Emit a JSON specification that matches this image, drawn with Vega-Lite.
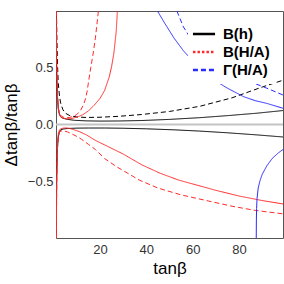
{
  "$schema": "https://vega.github.io/schema/vega-lite/v6.json",
  "width": 227,
  "height": 227,
  "autosize": "none",
  "padding": {"left": 56, "top": 11, "right": 1, "bottom": 46},
  "config": {
    "view": {"stroke": "#555555", "strokeWidth": 1},
    "font": "Liberation Sans",
    "axis": {
      "domain": false,
      "grid": false,
      "tickSize": 0,
      "tickColor": "#555555",
      "tickWidth": 1,
      "labelFont": "Liberation Sans",
      "labelFontSize": 13,
      "labelColor": "#333333",
      "titleFont": "Liberation Sans",
      "titleFontSize": 17,
      "titleFontWeight": "normal",
      "titleColor": "black"
    }
  },
  "resolve": {"axis": {"x": "independent", "y": "independent"}},
  "layer": [
    {
      "data": {"values": [{"a": 1, "b": 99, "z": 0}]},
      "mark": {"type": "rule", "color": "#c4c4c4", "strokeWidth": 2},
      "encoding": {
        "x": {
          "field": "a", "type": "quantitative",
          "scale": {"domain": [1, 99], "nice": false, "zero": false},
          "axis": {
            "orient": "top", "title": null, "labels": false,
            "values": [5,10,15,20,25,30,35,40,45,50,55,60,65,70,75,80,85,90,95],
            "encode": {"ticks": {"update": {"y2": {"signal": "datum.value % 20 === 0 ? 5 : 3"}}}}
          }
        },
        "x2": {"field": "b"},
        "y": {
          "field": "z", "type": "quantitative",
          "scale": {"domain": [-1, 1], "nice": false, "zero": false},
          "axis": {
            "orient": "right", "title": null, "labels": false,
            "values": [-0.9,-0.8,-0.7,-0.6,-0.5,-0.4,-0.3,-0.2,-0.1,0,0.1,0.2,0.3,0.4,0.5,0.6,0.7,0.8,0.9],
            "encode": {"ticks": {"update": {"x2": {"signal": "abs(datum.value*2 - round(datum.value*2)) < 0.001 ? -5 : -3"}}}}
          }
        }
      }
    },
    {
      "data": {"values": [
        {"t":1.08,"v":1.0,"c":"bh_up","g":"B(h)","s":"solid"},
        {"t":1.15,"v":0.75,"c":"bh_up","g":"B(h)","s":"solid"},
        {"t":1.3,"v":0.45,"c":"bh_up","g":"B(h)","s":"solid"},
        {"t":1.6,"v":0.25,"c":"bh_up","g":"B(h)","s":"solid"},
        {"t":2,"v":0.14,"c":"bh_up","g":"B(h)","s":"solid"},
        {"t":2.5,"v":0.09,"c":"bh_up","g":"B(h)","s":"solid"},
        {"t":3,"v":0.068,"c":"bh_up","g":"B(h)","s":"solid"},
        {"t":4,"v":0.055,"c":"bh_up","g":"B(h)","s":"solid"},
        {"t":6,"v":0.045,"c":"bh_up","g":"B(h)","s":"solid"},
        {"t":9,"v":0.037,"c":"bh_up","g":"B(h)","s":"solid"},
        {"t":14,"v":0.032,"c":"bh_up","g":"B(h)","s":"solid"},
        {"t":20,"v":0.03,"c":"bh_up","g":"B(h)","s":"solid"},
        {"t":28,"v":0.031,"c":"bh_up","g":"B(h)","s":"solid"},
        {"t":38,"v":0.035,"c":"bh_up","g":"B(h)","s":"solid"},
        {"t":50,"v":0.045,"c":"bh_up","g":"B(h)","s":"solid"},
        {"t":63,"v":0.06,"c":"bh_up","g":"B(h)","s":"solid"},
        {"t":75,"v":0.078,"c":"bh_up","g":"B(h)","s":"solid"},
        {"t":88,"v":0.1,"c":"bh_up","g":"B(h)","s":"solid"},
        {"t":99,"v":0.123,"c":"bh_up","g":"B(h)","s":"solid"},

        {"t":1.08,"v":-1.0,"c":"bh_lo","g":"B(h)","s":"solid"},
        {"t":1.15,"v":-0.75,"c":"bh_lo","g":"B(h)","s":"solid"},
        {"t":1.3,"v":-0.45,"c":"bh_lo","g":"B(h)","s":"solid"},
        {"t":1.6,"v":-0.22,"c":"bh_lo","g":"B(h)","s":"solid"},
        {"t":2,"v":-0.11,"c":"bh_lo","g":"B(h)","s":"solid"},
        {"t":2.5,"v":-0.065,"c":"bh_lo","g":"B(h)","s":"solid"},
        {"t":3,"v":-0.048,"c":"bh_lo","g":"B(h)","s":"solid"},
        {"t":4,"v":-0.04,"c":"bh_lo","g":"B(h)","s":"solid"},
        {"t":6,"v":-0.035,"c":"bh_lo","g":"B(h)","s":"solid"},
        {"t":10,"v":-0.032,"c":"bh_lo","g":"B(h)","s":"solid"},
        {"t":15,"v":-0.031,"c":"bh_lo","g":"B(h)","s":"solid"},
        {"t":22,"v":-0.031,"c":"bh_lo","g":"B(h)","s":"solid"},
        {"t":30,"v":-0.033,"c":"bh_lo","g":"B(h)","s":"solid"},
        {"t":40,"v":-0.038,"c":"bh_lo","g":"B(h)","s":"solid"},
        {"t":52,"v":-0.047,"c":"bh_lo","g":"B(h)","s":"solid"},
        {"t":63,"v":-0.058,"c":"bh_lo","g":"B(h)","s":"solid"},
        {"t":75,"v":-0.073,"c":"bh_lo","g":"B(h)","s":"solid"},
        {"t":88,"v":-0.092,"c":"bh_lo","g":"B(h)","s":"solid"},
        {"t":99,"v":-0.11,"c":"bh_lo","g":"B(h)","s":"solid"},

        {"t":1.2,"v":1.0,"c":"bh_da","g":"B(h)","s":"dashed"},
        {"t":1.4,"v":0.75,"c":"bh_da","g":"B(h)","s":"dashed"},
        {"t":1.7,"v":0.5,"c":"bh_da","g":"B(h)","s":"dashed"},
        {"t":2,"v":0.36,"c":"bh_da","g":"B(h)","s":"dashed"},
        {"t":2.5,"v":0.25,"c":"bh_da","g":"B(h)","s":"dashed"},
        {"t":3,"v":0.19,"c":"bh_da","g":"B(h)","s":"dashed"},
        {"t":4,"v":0.13,"c":"bh_da","g":"B(h)","s":"dashed"},
        {"t":5,"v":0.1,"c":"bh_da","g":"B(h)","s":"dashed"},
        {"t":7,"v":0.078,"c":"bh_da","g":"B(h)","s":"dashed"},
        {"t":10,"v":0.066,"c":"bh_da","g":"B(h)","s":"dashed"},
        {"t":14,"v":0.062,"c":"bh_da","g":"B(h)","s":"dashed"},
        {"t":20,"v":0.064,"c":"bh_da","g":"B(h)","s":"dashed"},
        {"t":28,"v":0.072,"c":"bh_da","g":"B(h)","s":"dashed"},
        {"t":38,"v":0.088,"c":"bh_da","g":"B(h)","s":"dashed"},
        {"t":50,"v":0.115,"c":"bh_da","g":"B(h)","s":"dashed"},
        {"t":63,"v":0.16,"c":"bh_da","g":"B(h)","s":"dashed"},
        {"t":77,"v":0.235,"c":"bh_da","g":"B(h)","s":"dashed"},
        {"t":90,"v":0.33,"c":"bh_da","g":"B(h)","s":"dashed"},
        {"t":99,"v":0.39,"c":"bh_da","g":"B(h)","s":"dashed"},

        {"t":1.1,"v":1.0,"c":"ha_up","g":"B(H/A)","s":"solid"},
        {"t":1.25,"v":0.6,"c":"ha_up","g":"B(H/A)","s":"solid"},
        {"t":1.5,"v":0.3,"c":"ha_up","g":"B(H/A)","s":"solid"},
        {"t":2,"v":0.13,"c":"ha_up","g":"B(H/A)","s":"solid"},
        {"t":2.5,"v":0.085,"c":"ha_up","g":"B(H/A)","s":"solid"},
        {"t":3,"v":0.068,"c":"ha_up","g":"B(H/A)","s":"solid"},
        {"t":4,"v":0.055,"c":"ha_up","g":"B(H/A)","s":"solid"},
        {"t":5.5,"v":0.05,"c":"ha_up","g":"B(H/A)","s":"solid"},
        {"t":7.5,"v":0.052,"c":"ha_up","g":"B(H/A)","s":"solid"},
        {"t":10,"v":0.065,"c":"ha_up","g":"B(H/A)","s":"solid"},
        {"t":12.5,"v":0.085,"c":"ha_up","g":"B(H/A)","s":"solid"},
        {"t":15,"v":0.12,"c":"ha_up","g":"B(H/A)","s":"solid"},
        {"t":17.5,"v":0.17,"c":"ha_up","g":"B(H/A)","s":"solid"},
        {"t":20,"v":0.23,"c":"ha_up","g":"B(H/A)","s":"solid"},
        {"t":22,"v":0.3,"c":"ha_up","g":"B(H/A)","s":"solid"},
        {"t":24,"v":0.42,"c":"ha_up","g":"B(H/A)","s":"solid"},
        {"t":25,"v":0.51,"c":"ha_up","g":"B(H/A)","s":"solid"},
        {"t":26,"v":0.63,"c":"ha_up","g":"B(H/A)","s":"solid"},
        {"t":27,"v":0.82,"c":"ha_up","g":"B(H/A)","s":"solid"},
        {"t":27.5,"v":1.0,"c":"ha_up","g":"B(H/A)","s":"solid"},

        {"t":1.1,"v":1.0,"c":"ha_da","g":"B(H/A)","s":"dashed"},
        {"t":1.3,"v":0.55,"c":"ha_da","g":"B(H/A)","s":"dashed"},
        {"t":1.6,"v":0.28,"c":"ha_da","g":"B(H/A)","s":"dashed"},
        {"t":2,"v":0.15,"c":"ha_da","g":"B(H/A)","s":"dashed"},
        {"t":2.5,"v":0.1,"c":"ha_da","g":"B(H/A)","s":"dashed"},
        {"t":3,"v":0.08,"c":"ha_da","g":"B(H/A)","s":"dashed"},
        {"t":4,"v":0.065,"c":"ha_da","g":"B(H/A)","s":"dashed"},
        {"t":5.5,"v":0.06,"c":"ha_da","g":"B(H/A)","s":"dashed"},
        {"t":7,"v":0.063,"c":"ha_da","g":"B(H/A)","s":"dashed"},
        {"t":8.5,"v":0.072,"c":"ha_da","g":"B(H/A)","s":"dashed"},
        {"t":10,"v":0.088,"c":"ha_da","g":"B(H/A)","s":"dashed"},
        {"t":11.7,"v":0.127,"c":"ha_da","g":"B(H/A)","s":"dashed"},
        {"t":13,"v":0.18,"c":"ha_da","g":"B(H/A)","s":"dashed"},
        {"t":13.8,"v":0.23,"c":"ha_da","g":"B(H/A)","s":"dashed"},
        {"t":14.5,"v":0.3,"c":"ha_da","g":"B(H/A)","s":"dashed"},
        {"t":15,"v":0.37,"c":"ha_da","g":"B(H/A)","s":"dashed"},
        {"t":16,"v":0.5,"c":"ha_da","g":"B(H/A)","s":"dashed"},
        {"t":17,"v":0.62,"c":"ha_da","g":"B(H/A)","s":"dashed"},
        {"t":18,"v":0.76,"c":"ha_da","g":"B(H/A)","s":"dashed"},
        {"t":19.3,"v":1.0,"c":"ha_da","g":"B(H/A)","s":"dashed"},

        {"t":1.15,"v":-1.0,"c":"ha_lo","g":"B(H/A)","s":"solid"},
        {"t":1.3,"v":-0.5,"c":"ha_lo","g":"B(H/A)","s":"solid"},
        {"t":1.6,"v":-0.18,"c":"ha_lo","g":"B(H/A)","s":"solid"},
        {"t":2,"v":-0.08,"c":"ha_lo","g":"B(H/A)","s":"solid"},
        {"t":2.5,"v":-0.05,"c":"ha_lo","g":"B(H/A)","s":"solid"},
        {"t":3,"v":-0.038,"c":"ha_lo","g":"B(H/A)","s":"solid"},
        {"t":4,"v":-0.032,"c":"ha_lo","g":"B(H/A)","s":"solid"},
        {"t":5.5,"v":-0.03,"c":"ha_lo","g":"B(H/A)","s":"solid"},
        {"t":7,"v":-0.035,"c":"ha_lo","g":"B(H/A)","s":"solid"},
        {"t":9,"v":-0.048,"c":"ha_lo","g":"B(H/A)","s":"solid"},
        {"t":11,"v":-0.062,"c":"ha_lo","g":"B(H/A)","s":"solid"},
        {"t":14,"v":-0.09,"c":"ha_lo","g":"B(H/A)","s":"solid"},
        {"t":18,"v":-0.14,"c":"ha_lo","g":"B(H/A)","s":"solid"},
        {"t":24,"v":-0.2,"c":"ha_lo","g":"B(H/A)","s":"solid"},
        {"t":30,"v":-0.26,"c":"ha_lo","g":"B(H/A)","s":"solid"},
        {"t":38,"v":-0.355,"c":"ha_lo","g":"B(H/A)","s":"solid"},
        {"t":46,"v":-0.43,"c":"ha_lo","g":"B(H/A)","s":"solid"},
        {"t":54,"v":-0.49,"c":"ha_lo","g":"B(H/A)","s":"solid"},
        {"t":62,"v":-0.535,"c":"ha_lo","g":"B(H/A)","s":"solid"},
        {"t":70,"v":-0.58,"c":"ha_lo","g":"B(H/A)","s":"solid"},
        {"t":80,"v":-0.63,"c":"ha_lo","g":"B(H/A)","s":"solid"},
        {"t":90,"v":-0.67,"c":"ha_lo","g":"B(H/A)","s":"solid"},
        {"t":99,"v":-0.7,"c":"ha_lo","g":"B(H/A)","s":"solid"},

        {"t":1.15,"v":-1.0,"c":"ha_dl","g":"B(H/A)","s":"dashed"},
        {"t":1.3,"v":-0.55,"c":"ha_dl","g":"B(H/A)","s":"dashed"},
        {"t":1.6,"v":-0.22,"c":"ha_dl","g":"B(H/A)","s":"dashed"},
        {"t":2,"v":-0.11,"c":"ha_dl","g":"B(H/A)","s":"dashed"},
        {"t":2.5,"v":-0.07,"c":"ha_dl","g":"B(H/A)","s":"dashed"},
        {"t":3,"v":-0.058,"c":"ha_dl","g":"B(H/A)","s":"dashed"},
        {"t":4,"v":-0.055,"c":"ha_dl","g":"B(H/A)","s":"dashed"},
        {"t":6,"v":-0.065,"c":"ha_dl","g":"B(H/A)","s":"dashed"},
        {"t":8,"v":-0.085,"c":"ha_dl","g":"B(H/A)","s":"dashed"},
        {"t":10,"v":-0.105,"c":"ha_dl","g":"B(H/A)","s":"dashed"},
        {"t":12,"v":-0.13,"c":"ha_dl","g":"B(H/A)","s":"dashed"},
        {"t":15,"v":-0.175,"c":"ha_dl","g":"B(H/A)","s":"dashed"},
        {"t":18,"v":-0.22,"c":"ha_dl","g":"B(H/A)","s":"dashed"},
        {"t":22,"v":-0.3,"c":"ha_dl","g":"B(H/A)","s":"dashed"},
        {"t":27,"v":-0.37,"c":"ha_dl","g":"B(H/A)","s":"dashed"},
        {"t":32,"v":-0.43,"c":"ha_dl","g":"B(H/A)","s":"dashed"},
        {"t":37,"v":-0.49,"c":"ha_dl","g":"B(H/A)","s":"dashed"},
        {"t":45,"v":-0.56,"c":"ha_dl","g":"B(H/A)","s":"dashed"},
        {"t":55,"v":-0.62,"c":"ha_dl","g":"B(H/A)","s":"dashed"},
        {"t":67,"v":-0.675,"c":"ha_dl","g":"B(H/A)","s":"dashed"},
        {"t":77,"v":-0.72,"c":"ha_dl","g":"B(H/A)","s":"dashed"},
        {"t":87,"v":-0.757,"c":"ha_dl","g":"B(H/A)","s":"dashed"},
        {"t":99,"v":-0.787,"c":"ha_dl","g":"B(H/A)","s":"dashed"},

        {"t":44.8,"v":1.0,"c":"ga_up","g":"Γ(H/A)","s":"solid"},
        {"t":48,"v":0.89,"c":"ga_up","g":"Γ(H/A)","s":"solid"},
        {"t":52,"v":0.76,"c":"ga_up","g":"Γ(H/A)","s":"solid"},
        {"t":56,"v":0.65,"c":"ga_up","g":"Γ(H/A)","s":"solid"},
        {"t":60,"v":0.56,"c":"ga_up","g":"Γ(H/A)","s":"solid"},
        {"t":64,"v":0.47,"c":"ga_up","g":"Γ(H/A)","s":"solid"},
        {"t":67,"v":0.42,"c":"ga_up","g":"Γ(H/A)","s":"solid"},
        {"t":71,"v":0.37,"c":"ga_up","g":"Γ(H/A)","s":"solid"},
        {"t":75,"v":0.32,"c":"ga_up","g":"Γ(H/A)","s":"solid"},
        {"t":82,"v":0.245,"c":"ga_up","g":"Γ(H/A)","s":"solid"},
        {"t":87,"v":0.21,"c":"ga_up","g":"Γ(H/A)","s":"solid"},
        {"t":92,"v":0.186,"c":"ga_up","g":"Γ(H/A)","s":"solid"},
        {"t":99,"v":0.143,"c":"ga_up","g":"Γ(H/A)","s":"solid"},

        {"t":53.2,"v":1.0,"c":"ga_da","g":"Γ(H/A)","s":"dashed"},
        {"t":56,"v":0.86,"c":"ga_da","g":"Γ(H/A)","s":"dashed"},
        {"t":60,"v":0.73,"c":"ga_da","g":"Γ(H/A)","s":"dashed"},
        {"t":65,"v":0.61,"c":"ga_da","g":"Γ(H/A)","s":"dashed"},
        {"t":70,"v":0.53,"c":"ga_da","g":"Γ(H/A)","s":"dashed"},
        {"t":76,"v":0.46,"c":"ga_da","g":"Γ(H/A)","s":"dashed"},
        {"t":82,"v":0.405,"c":"ga_da","g":"Γ(H/A)","s":"dashed"},
        {"t":87,"v":0.36,"c":"ga_da","g":"Γ(H/A)","s":"dashed"},
        {"t":92,"v":0.32,"c":"ga_da","g":"Γ(H/A)","s":"dashed"},
        {"t":99,"v":0.26,"c":"ga_da","g":"Γ(H/A)","s":"dashed"},

        {"t":87.45,"v":-1.0,"c":"ga_lo","g":"Γ(H/A)","s":"solid"},
        {"t":87.5,"v":-0.85,"c":"ga_lo","g":"Γ(H/A)","s":"solid"},
        {"t":87.6,"v":-0.74,"c":"ga_lo","g":"Γ(H/A)","s":"solid"},
        {"t":87.8,"v":-0.65,"c":"ga_lo","g":"Γ(H/A)","s":"solid"},
        {"t":88.3,"v":-0.56,"c":"ga_lo","g":"Γ(H/A)","s":"solid"},
        {"t":89,"v":-0.5,"c":"ga_lo","g":"Γ(H/A)","s":"solid"},
        {"t":90,"v":-0.44,"c":"ga_lo","g":"Γ(H/A)","s":"solid"},
        {"t":92,"v":-0.365,"c":"ga_lo","g":"Γ(H/A)","s":"solid"},
        {"t":94.3,"v":-0.3,"c":"ga_lo","g":"Γ(H/A)","s":"solid"},
        {"t":97,"v":-0.25,"c":"ga_lo","g":"Γ(H/A)","s":"solid"},
        {"t":99,"v":-0.22,"c":"ga_lo","g":"Γ(H/A)","s":"solid"}
      ]},
      "mark": {"type": "line", "strokeWidth": 1, "clip": true},
      "encoding": {
        "x": {
          "field": "t", "type": "quantitative",
          "scale": {"domain": [1, 99], "nice": false, "zero": false},
          "axis": {
            "orient": "bottom", "title": "tanβ", "titlePadding": 4,
            "labelPadding": 5,
            "values": [5,10,15,20,25,30,35,40,45,50,55,60,65,70,75,80,85,90,95],
            "labelExpr": "datum.value % 20 === 0 ? datum.label : ''",
            "encode": {"ticks": {"update": {"y2": {"signal": "datum.value % 20 === 0 ? -5 : -3"}}}}
          }
        },
        "y": {
          "field": "v", "type": "quantitative",
          "scale": {"domain": [-1, 1], "nice": false, "zero": false},
          "axis": {
            "orient": "left", "title": "Δtanβ/tanβ", "titlePadding": 7,
            "labelPadding": 3,
            "values": [-0.9,-0.8,-0.7,-0.6,-0.5,-0.4,-0.3,-0.2,-0.1,0,0.1,0.2,0.3,0.4,0.5,0.6,0.7,0.8,0.9],
            "labelExpr": "abs(datum.value*2 - round(datum.value*2)) < 0.001 ? format(datum.value, '.1f') : ''",
            "encode": {"ticks": {"update": {"x2": {"signal": "abs(datum.value*2 - round(datum.value*2)) < 0.001 ? 5 : 3"}}}}
          }
        },
        "detail": {"field": "c"},
        "color": {
          "field": "g", "type": "nominal",
          "scale": {"domain": ["B(h)", "B(H/A)", "Γ(H/A)"], "range": ["#000000", "#ff2a2a", "#2a2aff"]},
          "legend": {
            "orient": "none", "legendX": 132, "legendY": 7, "title": null,
            "fillColor": "white", "padding": 6,
            "symbolType": "M-1.3,0H1.3", "symbolSize": 289, "symbolStrokeWidth": 2.5,
            "labelFontSize": 15, "labelFontWeight": "bold", "labelFont": "Liberation Sans",
            "labelColor": "black", "rowPadding": 0, "labelOffset": 9,
            "encode": {"symbols": {"update": {"strokeDash": {"signal": "datum.value === 'B(H/A)' ? [2.5,2] : (datum.value === 'Γ(H/A)' ? [5,3] : [1,0])"}}}}
          }
        },
        "strokeDash": {
          "field": "s", "type": "nominal",
          "scale": {"domain": ["solid", "dashed"], "range": [[1, 0], [5, 3]]},
          "legend": null
        }
      }
    }
  ]
}
